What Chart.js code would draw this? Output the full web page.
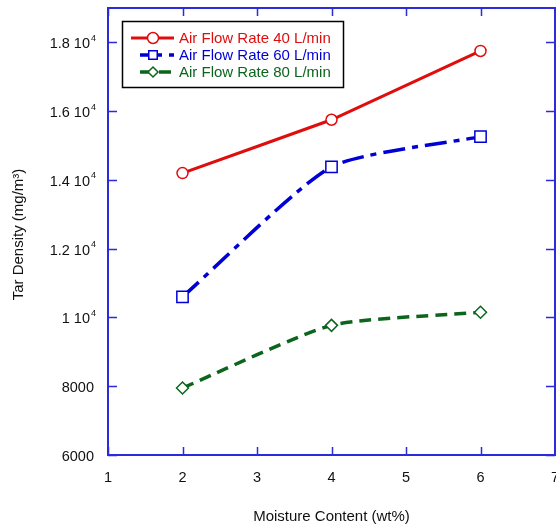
<!DOCTYPE html>
<html>
<head>
<meta charset="utf-8">
<script src="https://cdn.jsdelivr.net/npm/chart.js@4"></script>
<style>
html,body{margin:0;padding:0;background:#fff;overflow:hidden}
#wrap{width:556px;height:528px}
</style>
</head>
<body>
<div id="wrap"><canvas id="myChart" width="556" height="528"></canvas></div>
<script>
// moisture content (wt%) vs tar density for three air flow rates
var moisture = [2, 4, 6];
var flow40 = [14200, 15750, 17750];
var flow60 = [10600, 14380, 15260];
var flow80 = [7950, 9770, 10150];
var seriesNames = ['Air Flow Rate 40 L/min', 'Air Flow Rate 60 L/min', 'Air Flow Rate 80 L/min'];
var xTicks = [1, 2, 3, 4, 5, 6, 7];
var yTicks = [6000, 8000, 10000, 12000, 14000, 16000, 18000];

var axisBlue = '#2b2bdc';
var fontFam = '"Liberation Sans", Arial, sans-serif';
var legendMarkerSize = [5.5, 6, 5];

toPoints = function (ys) {
    return moisture.map(function (x, i) { return {x: x, y: ys[i]}; });
}

// frame, inward ticks, tick labels (with 10^4 superscripts), titles and legend box
var frameAxes = {
    id: 'frameAxes',
    afterDraw: function (chart) {
        var ctx = chart.ctx, a = chart.chartArea;
        var xs = chart.scales.x, ys = chart.scales.y;
        ctx.save();
        ctx.strokeStyle = axisBlue;
        ctx.lineWidth = 2;
        ctx.strokeRect(a.left, a.top, a.right - a.left, a.bottom - a.top);
        ctx.lineWidth = 1.5;
        ctx.beginPath();
        xTicks.forEach(function (v) {
            var px = Math.round(xs.getPixelForValue(v)) + 0.5;
            ctx.moveTo(px, a.bottom); ctx.lineTo(px, a.bottom - 8);
            ctx.moveTo(px, a.top); ctx.lineTo(px, a.top + 8);
        });
        yTicks.forEach(function (v) {
            var py = Math.round(ys.getPixelForValue(v)) + 0.5;
            ctx.moveTo(a.left, py); ctx.lineTo(a.left + 9, py);
            ctx.moveTo(a.right, py); ctx.lineTo(a.right - 9, py);
        });
        ctx.stroke();

        ctx.fillStyle = '#111';
        ctx.textBaseline = 'middle';
        ctx.textAlign = 'center';
        ctx.font = '14.5px ' + fontFam;
        xTicks.forEach(function (v) {
            ctx.fillText(String(v), xs.getPixelForValue(v), 478);
        });
        yTicks.forEach(function (v) {
            var py = ys.getPixelForValue(v);
            if (v >= 10000) {
                ctx.font = '14.5px ' + fontFam;
                ctx.textAlign = 'right';
                ctx.fillText((v / 10000) + ' 10', 90, py + 2);
                ctx.font = '9px ' + fontFam;
                ctx.textAlign = 'left';
                ctx.fillText('4', 91, py - 4);
            } else {
                ctx.font = '14.5px ' + fontFam;
                ctx.textAlign = 'right';
                ctx.fillText(String(v), 94, py + 2);
            }
        });

        ctx.font = '15px ' + fontFam;
        ctx.textAlign = 'center';
        ctx.fillText('Moisture Content (wt%)', (a.left + a.right) / 2, 517);
        ctx.save();
        ctx.translate(19, (a.top + a.bottom) / 2 + 3);
        ctx.rotate(-Math.PI / 2);
        ctx.fillText('Tar Density (mg/m\u00b3)', 0, 0);
        ctx.restore();

        // legend
        ctx.fillStyle = '#fff';
        ctx.fillRect(122, 21, 222, 67);
        ctx.strokeStyle = '#000';
        ctx.lineWidth = 1.5;
        ctx.strokeRect(122.5, 21.5, 221, 66);
        var rows = [38, 55, 72];
        chart.data.datasets.forEach(function (ds, i) {
            var y = rows[i];
            ctx.save();
            ctx.strokeStyle = ds.borderColor;
            ctx.lineWidth = ds.borderWidth;
            ctx.setLineDash(ds.borderDash || []);
            ctx.beginPath();
            ctx.moveTo(i === 0 ? 131 : 140, y);
            ctx.lineTo(174, y);
            ctx.stroke();
            ctx.restore();
            ctx.save();
            ctx.fillStyle = '#fff';
            ctx.strokeStyle = ds.borderColor;
            Chart.helpers.drawPoint(ctx, {pointStyle: ds.pointStyle, radius: legendMarkerSize[i], borderWidth: 1.5, rotation: 0}, 153, y);
            ctx.restore();
            ctx.fillStyle = ds.borderColor;
            ctx.font = '15px ' + fontFam;
            ctx.textAlign = 'left';
            ctx.fillText(ds.label, 179, y + 1);
        });
        ctx.restore();
    }
};

var myChart = new Chart(document.getElementById('myChart').getContext('2d'), {
    type: 'line',
    data: {
        datasets: [{
            label: seriesNames[0],
            data: toPoints(flow40),
            borderColor: '#e00d0d',
            borderWidth: 3,
            tension: 0.05,
            pointStyle: 'circle',
            pointRadius: 5.5,
            pointBackgroundColor: '#fff',
            pointBorderWidth: 1.5
        }, {
            label: seriesNames[1],
            data: toPoints(flow60),
            borderColor: '#0000d6',
            borderWidth: 3.5,
            borderDash: [22, 7, 6, 7],
            tension: 0.2,
            pointStyle: 'rect',
            pointRadius: 8,
            pointBackgroundColor: '#fff',
            pointBorderWidth: 1.5
        }, {
            label: seriesNames[2],
            data: toPoints(flow80),
            borderColor: '#0b651c',
            borderWidth: 3.5,
            borderDash: [12, 7],
            tension: 0.2,
            pointStyle: 'rectRot',
            pointRadius: 6,
            pointBackgroundColor: '#fff',
            pointBorderWidth: 1.5
        }]
    },
    options: {
        responsive: false,
        animation: false,
        devicePixelRatio: 1,
        layout: {autoPadding: false, padding: {top: 8, right: 1, left: 0, bottom: 0}},
        plugins: {legend: {display: false}, tooltip: {enabled: false}},
        scales: {
            x: {
                type: 'linear', min: 1, max: 7,
                ticks: {display: false, stepSize: 1},
                grid: {display: false}, border: {display: false},
                afterFit: function (s) { s.height = 73; }
            },
            y: {
                min: 6000, max: 19000,
                ticks: {display: false, stepSize: 2000},
                grid: {display: false}, border: {display: false},
                afterFit: function (s) { s.width = 108; }
            }
        }
    },
    plugins: [frameAxes]
});
</script>
</body>
</html>
